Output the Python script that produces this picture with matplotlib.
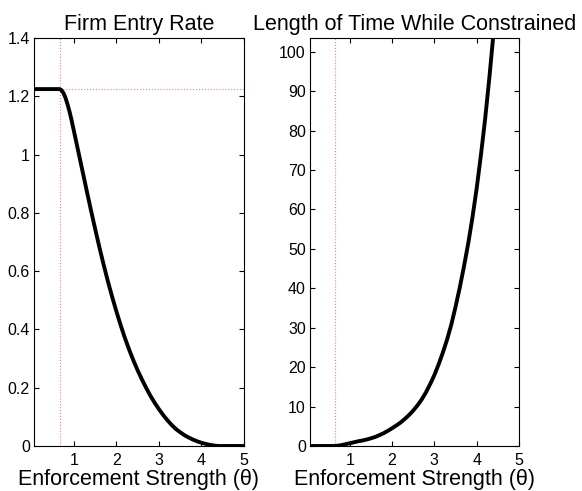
import matplotlib
matplotlib.use("Agg")
import matplotlib.pyplot as plt

plt.rcParams['font.family'] = ['Liberation Sans', 'DejaVu Sans']

# Values
theta_cut = 0.66
entry_max = 1.2247

theta_entry = [0.06, 0.3, 0.66, 0.7, 0.75, 0.8, 0.85, 0.9, 0.95, 1.0, 1.1, 1.2,
               1.3, 1.4, 1.5, 1.6, 1.7, 1.8, 1.9, 2.0, 2.1, 2.2, 2.3, 2.4, 2.5,
               2.6, 2.7, 2.8, 2.9, 3.0, 3.1, 3.2, 3.3, 3.4, 3.5, 3.6, 3.7, 3.8,
               3.9, 4.0, 4.1, 4.2, 4.3, 4.4, 4.7, 5.0]
entry_rate = [1.2247, 1.2247, 1.2247, 1.222, 1.212, 1.195, 1.172, 1.145, 1.114,
              1.08, 1.012, 0.944, 0.876, 0.809, 0.744, 0.681, 0.621, 0.564,
              0.511, 0.461, 0.414, 0.37, 0.33, 0.293, 0.259, 0.228, 0.199,
              0.172, 0.148, 0.126, 0.106, 0.088, 0.072, 0.058, 0.047, 0.037,
              0.029, 0.022, 0.016, 0.011, 0.007, 0.004, 0.0015, 0.0, 0.0, 0.0]

theta_time = [0.06, 0.3, 0.66, 0.7, 0.8, 0.9, 1.0, 1.1, 1.2, 1.3, 1.4, 1.5, 1.6,
              1.7, 1.8, 1.9, 2.0, 2.1, 2.2, 2.3, 2.4, 2.5, 2.6, 2.7, 2.8, 2.9,
              3.0, 3.1, 3.2, 3.3, 3.4, 3.5, 3.6, 3.7, 3.8, 3.9, 4.0, 4.1, 4.2,
              4.3, 4.4, 4.5]
time_constrained = [0.0, 0.0, 0.0, 0.05, 0.22, 0.45, 0.7, 0.95, 1.2, 1.4, 1.65,
                    1.95, 2.3, 2.75, 3.25, 3.85, 4.5, 5.2, 5.95, 6.85, 7.85, 9.0,
                    10.3, 11.8, 13.6, 15.7, 18.0, 20.7, 23.7, 27.0, 30.8, 35.3,
                    40.2, 45.6, 51.4, 58.0, 65.4, 73.8, 83.0, 93.5, 105.0, 118.0]

entry_ticks = [0, 0.2, 0.4, 0.6, 0.8, 1, 1.2, 1.4]
entry_labels = ['0', '0.2', '0.4', '0.6', '0.8', '1', '1.2', '1.4']
time_ticks = [0, 10, 20, 30, 40, 50, 60, 70, 80, 90, 100]
x_ticks = [1, 2, 3, 4, 5]

fig = plt.figure(figsize=(5.82, 4.91), dpi=100)
ax1 = fig.add_axes([34 / 582, 45 / 491, 210 / 582, 408 / 491])
ax2 = fig.add_axes([310 / 582, 45 / 491, 209 / 582, 408 / 491])

dot = dict(color='#ff7a7a', lw=0.8, linestyle=':', zorder=1)

# Firm entry rate
ax1.axvline(theta_cut, **dot)
ax1.hlines(entry_max, theta_cut, 5, **dot)
ax1.plot(theta_entry, entry_rate, color='black', lw=2.8, zorder=3,
         solid_joinstyle='round')
ax1.set_xlim(0.06, 5)
ax1.set_ylim(0, 1.4)
ax1.set_yticks(entry_ticks)
ax1.set_yticklabels(entry_labels)
ax1.set_title('Firm Entry Rate', fontsize=15.5)

# Length of time while constrained
ax2.axvline(theta_cut, **dot)
ax2.plot(theta_time, time_constrained, color='black', lw=2.8, zorder=3,
         solid_joinstyle='round')
ax2.set_xlim(0.06, 5)
ax2.set_ylim(0, 103.5)
ax2.set_yticks(time_ticks)
ax2.set_title('Length of Time While Constrained', fontsize=15.5)

for ax in (ax1, ax2):
    ax.set_xticks(x_ticks)
    ax.set_xlabel('Enforcement Strength (\u03b8)', fontsize=15.5, labelpad=1)
    ax.tick_params(direction='in', length=3.5, width=0.8, top=True, right=True,
                   labelsize=11.5)
    ax.tick_params(axis='x', pad=5)
    ax.tick_params(axis='y', pad=3)
    for s in ax.spines.values():
        s.set_linewidth(0.8)

fig.savefig('out.png', dpi=100)
